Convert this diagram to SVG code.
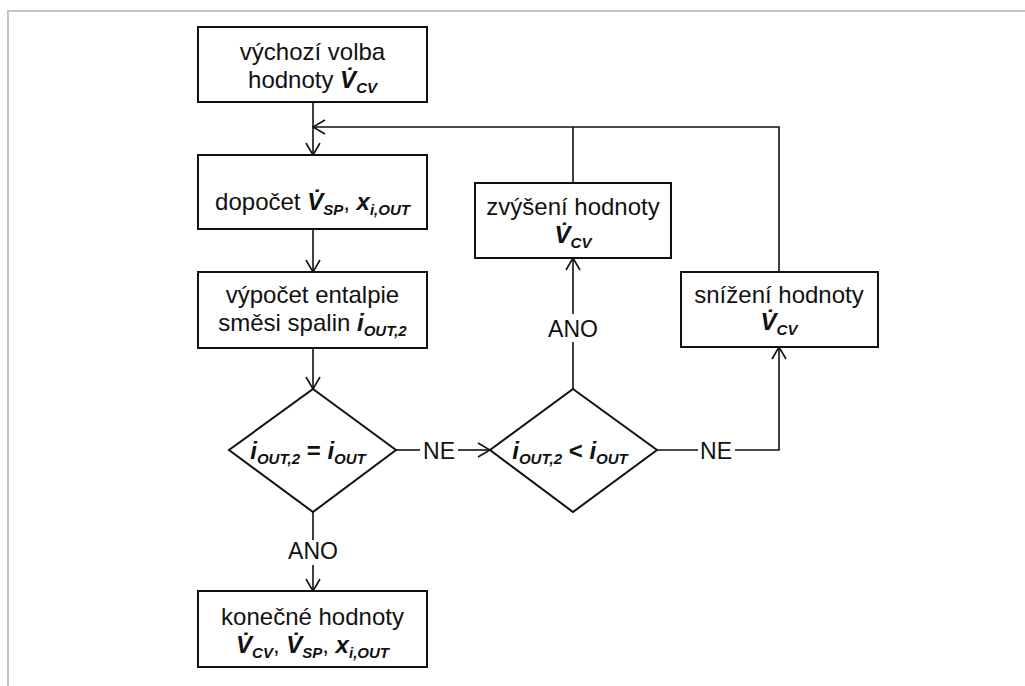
<svg xmlns="http://www.w3.org/2000/svg" width="1025" height="686" viewBox="0 0 1025 686">
<style>
.frame{stroke:#c4c4c4;stroke-width:2;fill:none}
.box{fill:#fff;stroke:#111;stroke-width:2}
.ln{fill:none;stroke:#111;stroke-width:1.6}
.t{font-family:"Liberation Sans",Arial,sans-serif;font-size:24px;fill:#111;text-anchor:middle}
.lbl{font-family:"Liberation Sans",Arial,sans-serif;font-size:23px;fill:#111;text-anchor:middle}
.v{font-weight:bold;font-style:italic}
.s{font-size:15px}
</style>
<defs>
<marker id="ah" viewBox="0 0 14 16" refX="13" refY="8" markerWidth="14" markerHeight="16" markerUnits="userSpaceOnUse" orient="auto">
<path d="M1,1 L13,8 L1,15" fill="none" stroke="#111" stroke-width="1.6"/>
</marker>
</defs>
<rect width="1025" height="686" fill="#fff"/>
<path class="frame" d="M8,686 V11 H1025"/>

<g id="connectors">
<path class="ln" d="M313,102 V155" marker-end="url(#ah)"/>
<path class="ln" d="M779,272 V127 H313" marker-end="url(#ah)"/>
<path class="ln" d="M573,183 V127"/>
<path class="ln" d="M313,229 V272" marker-end="url(#ah)"/>
<path class="ln" d="M313,348 V389" marker-end="url(#ah)"/>
<path class="ln" d="M313,512 V540"/>
<path class="ln" d="M313,565 V591" marker-end="url(#ah)"/>
<text class="lbl" x="313" y="559">ANO</text>
<path class="ln" d="M396,450 H420"/>
<path class="ln" d="M458,450 H490" marker-end="url(#ah)"/>
<text class="lbl" x="439" y="459">NE</text>
<path class="ln" d="M573,389 V342"/>
<path class="ln" d="M573,314 V258" marker-end="url(#ah)"/>
<text class="lbl" x="573" y="337">ANO</text>
<path class="ln" d="M657,450 H698"/>
<path class="ln" d="M735,450 H779 V347" marker-end="url(#ah)"/>
<text class="lbl" x="716" y="459">NE</text>
</g>

<g id="n1">
<rect class="box" x="198" y="27" width="229" height="75"/>
<text class="t" x="312.5" y="60">výchozí volba</text>
<text class="t" x="312.5" y="88">hodnoty <tspan class="v">V&#x307;</tspan><tspan class="v s" dy="5">CV</tspan></text>
</g>

<g id="n2">
<rect class="box" x="198" y="155" width="229" height="74"/>
<text class="t" x="312.5" y="210">dopočet <tspan class="v">V&#x307;</tspan><tspan class="v s" dy="5">SP</tspan><tspan dy="-5">, </tspan><tspan class="v">x</tspan><tspan class="v s" dy="5">i,OUT</tspan></text>
</g>

<g id="n3">
<rect class="box" x="198" y="272" width="229" height="76"/>
<text class="t" x="312.5" y="303">výpočet entalpie</text>
<text class="t" x="312.5" y="331">směsi spalin <tspan class="v">i</tspan><tspan class="v s" dy="5">OUT,2</tspan></text>
</g>

<g id="d1">
<polygon class="box" points="313,389 396,450 313,512 229,450"/>
<text class="t" x="308" y="459"><tspan class="v">i</tspan><tspan class="v s" dy="5">OUT,2</tspan><tspan font-weight="bold" dy="-5"> = </tspan><tspan class="v">i</tspan><tspan class="v s" dy="5">OUT</tspan></text>
</g>

<g id="n4">
<rect class="box" x="198" y="591" width="229" height="76"/>
<text class="t" x="312.5" y="625">konečné hodnoty</text>
<text class="t" x="312.5" y="653"><tspan class="v">V&#x307;</tspan><tspan class="v s" dy="5">CV</tspan><tspan dy="-5">, </tspan><tspan class="v">V&#x307;</tspan><tspan class="v s" dy="5">SP</tspan><tspan dy="-5">, </tspan><tspan class="v">x</tspan><tspan class="v s" dy="5">i,OUT</tspan></text>
</g>

<g id="d2">
<polygon class="box" points="573,389 657,450 573,512 490,450"/>
<text class="t" x="570" y="459"><tspan class="v">i</tspan><tspan class="v s" dy="5">OUT,2</tspan><tspan font-weight="bold" dy="-5"> &lt; </tspan><tspan class="v">i</tspan><tspan class="v s" dy="5">OUT</tspan></text>
</g>

<g id="n5">
<rect class="box" x="475" y="183" width="196" height="75"/>
<text class="t" x="573" y="215">zvýšení hodnoty</text>
<text class="t" x="573" y="243"><tspan class="v">V&#x307;</tspan><tspan class="v s" dy="5">CV</tspan></text>
</g>

<g id="n6">
<rect class="box" x="681" y="272" width="197" height="75"/>
<text class="t" x="779" y="303">snížení hodnoty</text>
<text class="t" x="779" y="330"><tspan class="v">V&#x307;</tspan><tspan class="v s" dy="5">CV</tspan></text>
</g>
</svg>
